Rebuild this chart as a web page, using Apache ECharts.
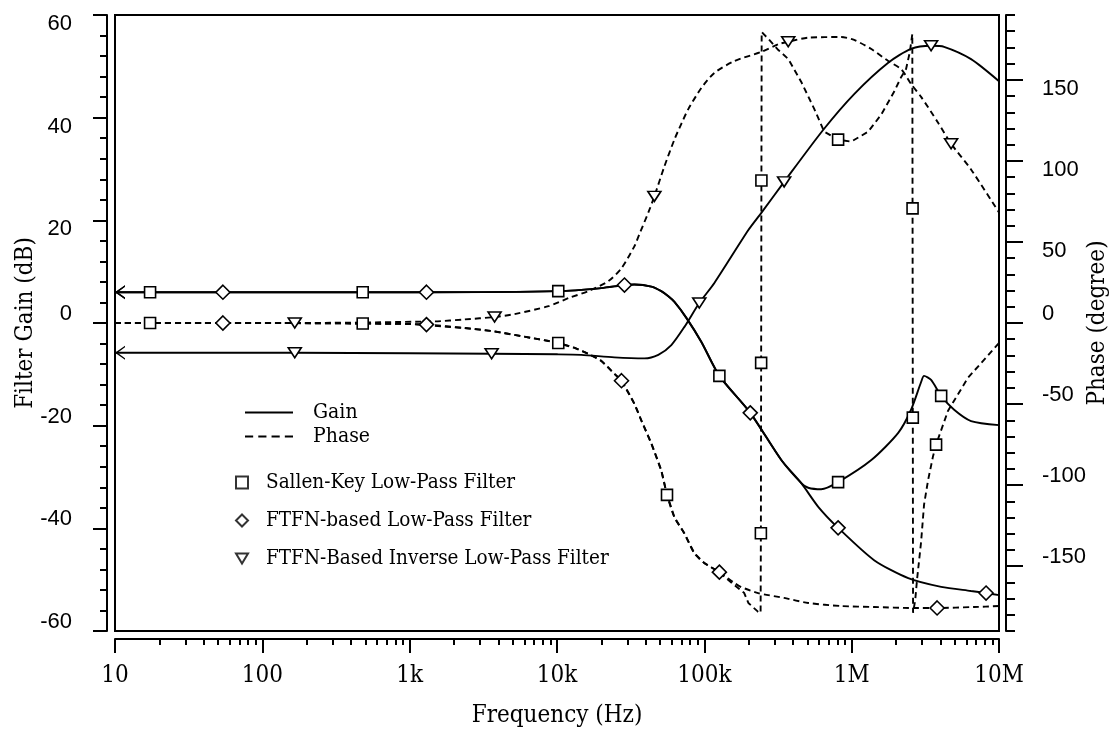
<!DOCTYPE html>
<html>
<head>
<meta charset="utf-8">
<script src="https://cdn.jsdelivr.net/npm/echarts@6/dist/echarts.min.js"></script>
<style>
  html, body { margin: 0; padding: 0; background: #fff; }
  #chart { width: 1114px; height: 729px; }
</style>
</head>
<body>
<div id="chart"></div>
<script>
// Frequency response of three active filters: [frequency (Hz), value]
// Gain in dB (left axis), phase in degrees (right axis).

const skGain = [[10,6.0],[17.3,6.0],[480,6.0],[1000,6.0],[10200,6.2],[20000,6.8],[28700,7.4],[33500,7.5],[43700,7.1],[51000,6.2],[57000,5.2],[62700,4.1],[75500,1.0],[95500,-3.7],[126500,-10.3],[205000,-17.5],[333000,-26.7],[455000,-31.2],[507000,-32.1],[621000,-32.4],[809000,-31.0],[1360000,-26.7],[2070000,-21.4],[2530000,-16.9],[2960000,-11.5],[3100000,-10.3],[3460000,-11.1],[4050000,-14.2],[4960000,-16.9],[6460000,-19.1],[10000000,-19.9]];
const skGainMarks = [17.3, 480, 10200, 126500, 809000, 4050000];

const ftfnGain = [[10,6.0],[54,6.0],[1000,6.0],[1300,6.0],[10200,6.2],[20000,6.8],[28700,7.4],[33500,7.5],[43700,7.1],[51000,6.2],[57000,5.2],[62700,4.1],[75500,1.0],[95500,-3.7],[126500,-10.3],[205000,-17.5],[333000,-26.7],[455000,-31.2],[593000,-35.8],[809000,-39.9],[1420000,-46.2],[2420000,-49.7],[4050000,-51.4],[6460000,-52.2],[8170000,-52.6],[10000000,-53.0]];
const ftfnGainMarks = [54, 1300, 28700, 205000, 809000, 8170000];

const invGain = [[10,-5.8],[166,-5.8],[1000,-5.9],[3600,-6.0],[10000,-6.1],[14600,-6.2],[24500,-6.7],[39200,-6.9],[48700,-6.2],[59700,-4.3],[73100,-0.8],[92400,3.9],[117000,7.8],[199000,18.1],[243000,21.4],[348000,27.5],[640000,37.6],[1040000,44.6],[1770000,50.7],[2530000,53.4],[3460000,54.0],[4240000,53.8],[6460000,51.4],[10000000,47.1]];
const invGainMarks = [166, 3600, 92400, 348000, 3460000];

const skPhase = [[10,0],[17.3,0],[100,0],[480,-0.3],[1000,-0.6],[2360,-3.1],[3600,-4.9],[6700,-9.2],[8760,-11.1],[10200,-12.3],[13200,-15.4],[16400,-19.1],[20000,-23.4],[24500,-31.3],[27400,-35.6],[33500,-49.8],[37400,-60.2],[43700,-74.4],[51000,-91.0],[55800,-106.0],[62700,-119.9],[73100,-129.7],[85500,-142.0],[100000,-148.1],[126500,-153.7],[145500,-158.6],[186600,-166.6],[199000,-172.7],[232000,-178.2],[241000,-178.8],[242000,-129.7],[243000,-24.6],[244000,87.9],[245000,179.5],[276000,174.6],[318000,168.4],[371000,162.9],[455000,148.7],[557000,132.1],[651000,118.0],[809000,113.1],[993000,111.9],[1294000,118.0],[1585000,128.5],[1940000,142.6],[2170000,151.8],[2340000,156.7],[2480000,167.0],[2580000,178.2],[2590000,70.7],[2600000,-58.4],[2610000,-178.8],[2700000,-170.9],[2780000,-158.0],[2960000,-135.0],[3100000,-112.0],[3300000,-97.0],[3570000,-82.0],[3740000,-75.0],[4510000,-54.1],[6160000,-33.8],[10000000,-12.3]];
const skPhaseMarks = [17.3, 480, 10200, 55800, 242000, 243000, 244000, 809000, 2590000, 2600000, 3740000];

const ftfnPhase = [[10,0],[54,0],[100,0],[1000,-0.6],[1300,-1.0],[2360,-3.1],[3600,-4.9],[6700,-9.2],[8760,-11.1],[10200,-12.3],[13200,-15.4],[16400,-19.1],[20000,-23.4],[24500,-31.3],[27400,-35.6],[33500,-49.8],[37400,-60.2],[43700,-74.4],[51000,-91.0],[55800,-106.0],[62700,-119.9],[73100,-129.7],[85500,-142.0],[100000,-148.1],[126500,-153.7],[160000,-160.4],[178000,-162.9],[232000,-166.6],[348000,-169.6],[507000,-172.7],[849000,-174.6],[1420000,-175.2],[2610000,-175.8],[3800000,-175.8],[6780000,-175.2],[10000000,-174.6]];
const ftfnPhaseMarks = [54, 1300, 27400, 126500, 3800000];

const invPhase = [[10,0],[166,0],[1480,1.0],[2360,2.2],[3770,3.7],[5150,5.5],[8760,10.4],[12000,15.4],[16400,19.7],[22300,25.8],[27400,33.8],[33500,47.3],[36200,54.7],[41700,68.2],[45800,78.1],[53500,96.5],[62600,113.1],[69800,122.9],[78000,132.1],[95500,145.0],[117000,154.3],[160000,161.6],[243000,167.2],[318000,172.0],[371000,173.5],[507000,176.0],[849000,176.4],[1040000,174.6],[1360000,169.0],[1770000,161.6],[2170000,156.5],[2530000,147.5],[2960000,139.5],[3860000,123.5],[4730000,110.6],[6460000,94.7],[10000000,68.2]];
const invPhaseMarks = [166, 3770, 45800, 371000, 4730000];

// Axis tick labels
const freqTickLabels = ['10', '100', '1k', '10k', '100k', '1M', '10M'];
const gainRange = [-60, 60];
const phaseRange = [-190, 190];
const phaseLabelValues = [-150, -100, -50, 0, 50, 100, 150];

const legendLines = ['Gain', 'Phase'];
const legendFilters = ['Sallen-Key Low-Pass Filter', 'FTFN-based Low-Pass Filter', 'FTFN-Based Inverse Low-Pass Filter'];

// ---------------------------------------------------------------
const SERIF = '"DejaVu Serif Condensed", "DejaVu Serif", serif';
const SANS = '"Liberation Sans", Arial, sans-serif';
const INK = '#000';

const markerStyles = {
  rect: { symbol: 'rect', symbolSize: 11, symbolRotate: 0 },
  diamond: { symbol: 'diamond', symbolSize: [14, 14], symbolRotate: 0 },
  tri: { symbol: 'triangle', symbolSize: [13, 10], symbolRotate: 180 }
};
const hollow = { color: '#fff', borderColor: INK, borderWidth: 1.6 };
const arrowHead = 'path://M10,0 L0,7 L10,14 L10,12.4 L2.6,7 L10,1.6 Z';

// legend glyphs
const solidIcon = 'path://M0,0 H48 V2 H0 Z';
const dashIcon = 'path://M0,0 H8 V2 H0 Z M13,0 H21 V2 H13 Z M26,0 H34 V2 H26 Z M39,0 H47 V2 H39 Z';
const downTriangleIcon = 'path://M0,0 L12,0 L6,10 Z';

// log10 of frequency is the x coordinate of the value axis
function buildData(points, marks, shape, withArrow) {
  const ms = markerStyles[shape];
  return points.map(([f, v], i) => {
    const item = { value: [Math.log10(f), v] };
    if (withArrow && i === 0) {
      item.symbol = arrowHead;
      item.symbolSize = [10, 14];
      item.symbolOffset = [5, 0];
      item.itemStyle = { color: INK, borderWidth: 0 };
    } else if (marks.indexOf(f) >= 0) {
      item.symbol = ms.symbol;
      item.symbolSize = ms.symbolSize;
      item.symbolRotate = ms.symbolRotate;
    } else {
      item.symbol = 'none';
    }
    return item;
  });
}

function curve(name, points, marks, shape, dashed, yIdx, smooth, withArrow) {
  return {
    name: name,
    type: 'line',
    xAxisIndex: 0,
    yAxisIndex: yIdx,
    data: buildData(points, marks, shape, withArrow),
    showSymbol: true,
    smooth: smooth,
    silent: true,
    animation: false,
    lineStyle: { color: INK, width: 1.9, type: dashed ? [6, 4] : 'solid' },
    itemStyle: hollow,
    emphasis: { disabled: true },
    z: 3
  };
}

const minorFreqTicks = [];
for (let n = 1; n <= 6; n++) {
  for (let k = 2; k <= 9; k++) minorFreqTicks.push(Math.log10(k * Math.pow(10, n)));
}
const minorPhaseTicks = [];
for (let d = phaseRange[0]; d <= phaseRange[1]; d += 10) {
  if (d % 50 !== 0) minorPhaseTicks.push(d);
}

// value labels sit a little below the tick when positive, above it otherwise
function shiftedLabel(v) {
  return v > 0 ? '{dn|' + v + '}' : '{up|' + v + '}';
}
const shiftRich = {
  dn: { fontFamily: SANS, fontSize: 22, color: INK, padding: [18, 0, 0, 0] },
  up: { fontFamily: SANS, fontSize: 22, color: INK, padding: [0, 0, 18, 0] }
};

const axisLine = { show: true, onZero: false, lineStyle: { color: INK, width: 2 } };

const option = {
  backgroundColor: '#fff',
  animation: false,
  grid: {
    left: 115, top: 15, width: 884, height: 616,
    outerBoundsMode: 'none', containLabel: false,
    show: true, borderColor: INK, borderWidth: 2, backgroundColor: 'transparent'
  },
  xAxis: [
    {
      type: 'value', min: 1, max: 7, interval: 1, position: 'bottom', offset: 8,
      axisLine: axisLine,
      axisTick: { show: true, inside: false, length: 14, lineStyle: { color: INK, width: 2 } },
      axisLabel: {
        margin: 25, fontFamily: SERIF, fontSize: 24, color: INK,
        formatter: v => freqTickLabels[Math.round(v) - 1]
      },
      splitLine: { show: false },
      name: 'Frequency (Hz)', nameLocation: 'middle', nameGap: 65, nameMoveOverlap: false,
      nameTextStyle: { fontFamily: SERIF, fontSize: 24, color: INK }
    },
    {
      type: 'value', min: 1, max: 7, position: 'bottom', offset: 8,
      axisLine: { show: false, onZero: false },
      axisTick: { show: true, length: 6, customValues: minorFreqTicks, lineStyle: { color: INK, width: 2 } },
      axisLabel: { show: false },
      splitLine: { show: false }
    }
  ],
  yAxis: [
    {
      type: 'value', position: 'left', min: gainRange[0], max: gainRange[1], interval: 20, offset: 8,
      axisLine: axisLine,
      axisTick: { show: true, length: 14, lineStyle: { color: INK, width: 2 } },
      minorTick: { show: true, splitNumber: 5, length: 7, lineStyle: { color: INK, width: 2 } },
      axisLabel: { margin: 35, formatter: shiftedLabel, rich: shiftRich, fontFamily: SANS, fontSize: 22, color: INK },
      splitLine: { show: false },
      minorSplitLine: { show: false },
      name: 'Filter Gain (dB)', nameLocation: 'middle', nameGap: 69, nameRotate: 90, nameMoveOverlap: false,
      nameTextStyle: { fontFamily: SERIF, fontSize: 24, color: INK }
    },
    {
      type: 'value', position: 'right', min: phaseRange[0], max: phaseRange[1], offset: 7,
      axisLine: axisLine,
      axisTick: { show: true, length: 17, customValues: phaseLabelValues, lineStyle: { color: INK, width: 2 } },
      axisLabel: { margin: 36, customValues: phaseLabelValues, formatter: shiftedLabel, rich: shiftRich, fontFamily: SANS, fontSize: 22, color: INK },
      splitLine: { show: false },
      name: 'Phase (degree)', nameLocation: 'middle', nameGap: 80, nameRotate: 90, nameMoveOverlap: false,
      nameTextStyle: { fontFamily: SERIF, fontSize: 24, color: INK }
    },
    {
      type: 'value', position: 'right', min: phaseRange[0], max: phaseRange[1], offset: 7,
      axisLine: { show: false, onZero: false },
      axisTick: { show: true, length: 9, customValues: minorPhaseTicks, lineStyle: { color: INK, width: 2 } },
      axisLabel: { show: false },
      splitLine: { show: false }
    }
  ],
  legend: [
    {
      data: [
        { name: legendLines[0], icon: solidIcon },
        { name: legendLines[1], icon: dashIcon }
      ],
      orient: 'vertical', left: 240, top: 397,
      itemWidth: 48, itemHeight: 14, itemGap: 3, selectedMode: false,
      textStyle: { fontFamily: SERIF, fontSize: 21, color: INK, padding: [0, 0, 0, 15] }
    },
    {
      data: [
        { name: legendFilters[0], icon: 'rect' },
        { name: legendFilters[1], icon: 'diamond' },
        { name: legendFilters[2], icon: downTriangleIcon }
      ],
      orient: 'vertical', left: 230, top: 467,
      itemWidth: 12, itemHeight: 12, itemGap: 17, selectedMode: false,
      textStyle: { fontFamily: SERIF, fontSize: 20.5, color: INK, padding: [0, 0, 0, 13] }
    }
  ],
  series: [
    curve('SK gain', skGain, skGainMarks, 'rect', false, 0, 0.25, true),
    curve('FTFN gain', ftfnGain, ftfnGainMarks, 'diamond', false, 0, 0.25, true),
    curve('Inverse gain', invGain, invGainMarks, 'tri', false, 0, 0.25, true),
    curve('SK phase', skPhase, skPhaseMarks, 'rect', true, 1, false, false),
    curve('FTFN phase', ftfnPhase, ftfnPhaseMarks, 'diamond', true, 1, 0.25, false),
    curve('Inverse phase', invPhase, invPhaseMarks, 'tri', true, 1, 0.25, false),
    // legend entries
    { name: 'Gain', type: 'line', data: [], symbol: 'none', lineStyle: { color: INK, width: 1.8 }, itemStyle: { color: INK, borderWidth: 0 } },
    { name: 'Phase', type: 'line', data: [], symbol: 'none', lineStyle: { color: INK, width: 1.8, type: [6, 4] }, itemStyle: { color: INK, borderWidth: 0 } },
    { name: legendFilters[0], type: 'scatter', data: [], symbol: 'rect', itemStyle: hollow },
    { name: legendFilters[1], type: 'scatter', data: [], symbol: 'diamond', itemStyle: hollow },
    { name: legendFilters[2], type: 'scatter', data: [], symbol: 'triangle', itemStyle: hollow }
  ]
};

const chart = echarts.init(document.getElementById('chart'), null, { renderer: 'canvas' });
chart.setOption(option);
</script>
</body>
</html>
